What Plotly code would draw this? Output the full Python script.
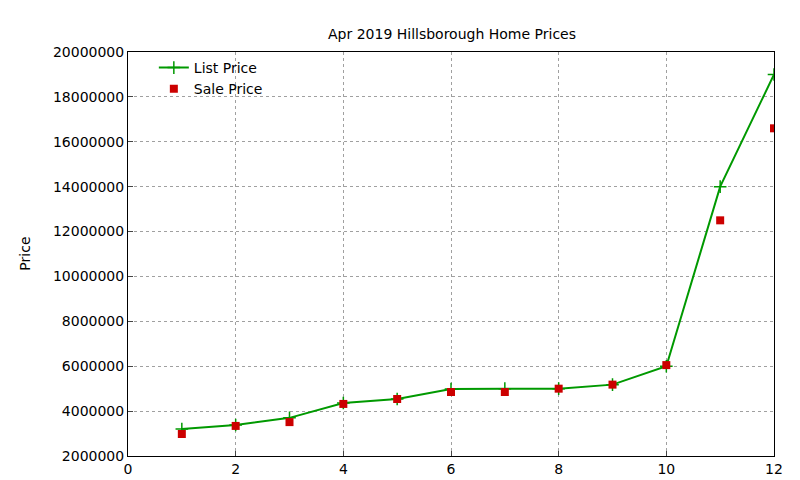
import plotly.graph_objects as go

x = list(range(1, 13))
list_price = [3200000, 3380000, 3700000, 4360000, 4540000, 4980000, 5000000, 5000000, 5180000, 6000000, 14000000, 19000000]
sale_price = [2980000, 3340000, 3510000, 4320000, 4540000, 4850000, 4850000, 5000000, 5180000, 6050000, 12500000, 16600000]
yticks = [2000000 + 2000000 * i for i in range(10)]

fig = go.Figure()
fig.add_trace(go.Scatter(x=x, y=list_price, mode="lines+markers", name="List Price",
                         line=dict(color="#009900", width=2),
                         marker=dict(symbol="cross-thin", size=9, line=dict(color="#009900", width=1.5))))
fig.add_trace(go.Scatter(x=x, y=sale_price, mode="markers", name="Sale Price",
                         marker=dict(symbol="square", size=8, color="#cc0000")))

axis = dict(showline=True, linecolor="black", mirror=True, ticks="inside", ticklen=5,
            showgrid=True, gridcolor="#a0a0a0", griddash="dot", gridwidth=1, zeroline=False,
            automargin=False,
            tickfont=dict(family="DejaVu Sans", size=14, color="black"))
fig.update_layout(
    width=800, height=480, plot_bgcolor="white", paper_bgcolor="white",
    margin=dict(l=120, r=34, t=44, b=32, autoexpand=False),
    title=dict(text="Apr 2019 Hillsborough Home Prices", x=0.555, y=0.955,
               font=dict(family="DejaVu Sans", size=14, color="black")),
    xaxis=dict(range=[0, 12], tickvals=list(range(0, 13, 2)), **axis),
    yaxis=dict(range=[2000000, 20000000], tickvals=yticks, tickformat="d", **axis),
    legend=dict(x=0.04, y=1.0, xanchor="left", yanchor="top", bgcolor="rgba(0,0,0,0)",
                font=dict(family="DejaVu Sans", size=14, color="black"), tracegroupgap=0),
    showlegend=True,
    annotations=[dict(text="Price", xref="paper", yref="paper", x=-0.16, y=0.5,
                      xanchor="center", yanchor="middle", textangle=-90, showarrow=False,
                      font=dict(family="DejaVu Sans", size=14, color="black"))],
)
fig.write_html("out.html")
